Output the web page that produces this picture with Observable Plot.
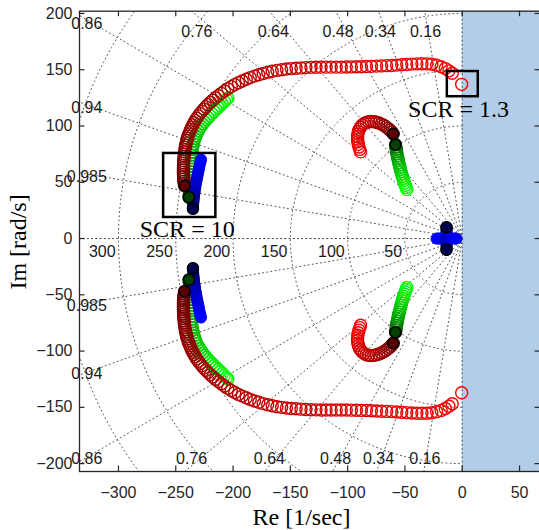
<!DOCTYPE html>
<html><head><meta charset="utf-8">
<script src="https://cdn.jsdelivr.net/npm/d3@7"></script>
<script src="https://cdn.jsdelivr.net/npm/@observablehq/plot@0.6"></script>
<style>html,body{margin:0;padding:0;overflow:hidden;background:#fff} #chart svg{max-width:none !important;}</style>
</head><body><div id="chart"></div>
<script>
// ---- axis / grid values ----
const xTicks = [-300,-250,-200,-150,-100,-50,0,50];
const yTicks = [-200,-150,-100,-50,0,50,100,150,200];
const zetaTop = [0.16,0.34,0.48,0.64,0.76];
const zetaLeft = [0.86,0.94,0.985];
const wnCircles = [50,100,150,200,250,300,350];
const wnLabels = [50,100,150,200,250,300];

// ---- pole trajectories (upper half; lower half is the conjugate) [Re, Im] ----
const redArc = [
[-242.3,47],[-242.6,49],[-242.9,51],[-243.1,53],[-243.2,55],[-243.3,57],[-243.3,59],[-243.3,61],[-243.3,63],[-243.2,65],
[-243.1,67],[-243,69],[-242.9,71],[-242.7,73],[-242.5,75],[-242.3,77],[-242,79],[-241.7,81],[-241.3,83],[-240.9,85],
[-240.4,87],[-239.9,89],[-239.3,91],[-238.6,93],[-237.8,95],[-237,97],[-236.1,99],[-235.1,101],[-234.1,103],[-233,105],
[-231.7,107],[-230.3,109],[-228.8,111],[-227.2,113],[-225.5,115],[-223.7,117],[-221.8,119],[-219.8,121],[-217.6,123],[-215.3,125],
[-212.8,127],[-210.2,129],[-207.5,131],[-204.6,133],[-201.6,135],[-198.5,136.8],[-195.3,138.5],[-192,140],[-188.5,141.5],[-185,143],
[-181.3,144.3],[-177.5,145.5],[-173.7,146.7],[-169.8,147.7],[-165.8,148.6],[-161.7,149.4],[-157.6,150],[-153.4,150.6],[-149.2,151],[-145,151.3],
[-140.7,151.6],[-136.4,151.9],[-132,152.1],[-127.6,152.2],[-123.2,152.3],[-118.8,152.3],[-114.4,152.3],[-110,152.3],[-105.6,152.3],[-101.2,152.4],
[-96.8,152.5],[-92.4,152.6],[-88,152.7],[-83.6,152.8],[-79.2,153],[-74.8,153.2],[-70.4,153.4],[-66,153.6],[-61.6,153.8],[-57.2,154.1],
[-52.8,154.4],[-48.4,154.7],[-44,155],[-39.6,155.2],[-35.2,155.3],[-30.8,155.2],[-26.5,154.8],[-22.3,154],[-18.4,152.7],[-14.8,151],
[-11.6,149],[-8.7,146.8],[-0.5,137]
];
const greenArc = [
[-238.5,36.7],[-238.2,39.2],[-237.9,41.7],[-237.6,44.2],[-237.3,46.7],[-237.1,49.2],[-236.9,51.7],[-236.8,54.2],[-236.7,56.7],[-236.6,59.2],
[-236.6,61.7],[-236.5,64.2],[-236.5,66.7],[-236.4,69.2],[-236.3,71.7],[-236.2,74.2],[-236,76.7],[-235.7,79.2],[-235.2,81.6],[-234.6,84],
[-234,86.4],[-233.3,88.8],[-232.5,91.1],[-231.5,93.4],[-230.4,95.6],[-229.2,97.7],[-227.9,99.8],[-226.5,101.8],[-225,103.7],[-223.4,105.6],
[-221.8,107.4],[-220.1,109.2],[-218.4,111],[-216.6,112.8],[-214.8,114.6],[-213,116.4],[-211.2,118.2],[-209.4,120],[-207.6,121.8],[-205.8,123.6],
[-204.5,124.8]
];
const blueArc = [
[-235,26.4],[-234.9,28.4],[-234.8,30.4],[-234.6,32.4],[-234.4,34.4],[-234.2,36.4],[-234,38.4],[-233.7,40.4],[-233.4,42.4],[-233.1,44.4],
[-232.8,46.4],[-232.5,48.4],[-232.1,50.4],[-231.7,52.4],[-231.3,54.4],[-230.9,56.4],[-230.5,58.4],[-230.1,60.4],[-229.7,62.4],[-229.3,64.4],
[-228.9,66.4],[-228.4,68.4],[-227.9,70.2]
];
const redHook = [
[-60.2,93],[-61.6,94.8],[-63.2,96.5],[-64.9,98],[-66.7,99.4],[-68.6,100.6],[-70.6,101.7],[-72.7,102.6],[-74.9,103.3],[-77.1,103.8],
[-79.4,104],[-81.6,103.8],[-83.7,103.2],[-85.6,102.2],[-87.3,100.8],[-88.7,99.1],[-89.8,97.2],[-90.6,95.1],[-91.1,92.9],[-91.3,90.6],
[-91.3,88.3],[-91.1,86],[-90.7,83.7],[-90.1,81.4],[-89.4,79.2],[-88.7,77]
];
const greenHook = [
[-58.2,83.3],[-57.9,81.3],[-57.6,79.3],[-57.3,77.3],[-57,75.3],[-56.6,73.3],[-56.2,71.3],[-55.8,69.3],[-55.4,67.3],[-54.9,65.3],
[-54.4,63.3],[-53.9,61.3],[-53.4,59.3],[-52.9,57.3],[-52.3,55.3],[-51.7,53.3],[-51.1,51.3],[-50.4,49.3],[-49.7,47.3],[-49,45.3],
[-48.3,43.5]
];
const blueNearImag = [[-13.7,10],[-13.7,8.6],[-13.7,7.2],[-13.7,5.8],[-13.7,4.4],[-13.7,3],[-13.7,1.6],[-13.7,0.4]];
const blueNearRealLeft = [[-15,0],[-16.5,0],[-18,0],[-19.5,0],[-21,0],[-22.5,0]];
const blueNearRealRight = [[-12.4,0],[-10.9,0],[-9.4,0],[-7.9,0],[-6.4,0],[-5,0]];

// ---- annotations ----
const annotationBoxes = [{x1:-260.6,x2:-215,y1:18.7,y2:75.6},{x1:-13,x2:14,y1:126,y2:148.4}];
const annotationTexts = [{re:-240,im:8,text:"SCR = 10"},{re:-3.2,im:114.7,text:"SCR = 1.3"}];

// ---- build tables ----
const xDomain = [-334, 68.3], yDomain = [-207, 202];
function buildSeries(pts, c0, c1, gamma, lowerPts) {
  const rows = [];
  const interp = d3.interpolateRgb(c0, c1);
  const col = (i, n) => interp(Math.pow(n > 1 ? i / (n - 1) : 1, gamma));
  const n = pts.length;
  pts.forEach(([re, im], i) => {
    const color = col(i, n);
    rows.push({re, im, color});
    if (!lowerPts) rows.push({re, im: -im, color});
  });
  if (lowerPts) {
    const m = lowerPts.length;
    lowerPts.forEach(([re, im], i) => rows.push({re, im, color: col(i, m)}));
  }
  return rows;
}
const redArcRows = buildSeries(redArc, "#650000", "#ff0000", 0.9);
const greenArcRows = buildSeries(greenArc, "#004000", "#00ff00", 0.6);
const blueArcRows = buildSeries(blueArc, "#000045", "#0000ff", 0.7);
const redHookRows = buildSeries(redHook, "#650000", "#ff0000", 0.8);
const greenHookRows = buildSeries(greenHook, "#004000", "#00ff00", 0.7);
const blueNearRows = buildSeries(
  [...blueNearImag, ...blueNearRealLeft], "#000045", "#0000ff", 0.8,
  [...blueNearImag.map(([r, i]) => [r, -i]), ...blueNearRealRight]);

const startMarkers = [];
[[redArc, "#5a0000"], [greenArc, "#004000"], [blueArc, "#000050"],
 [redHook, "#5a0000"], [greenHook, "#004000"], [blueNearImag, "#000050"]].forEach(([pts, c]) => {
  startMarkers.push({re: pts[0][0], im: pts[0][1], color: c});
  startMarkers.push({re: pts[0][0], im: -pts[0][1], color: c});
});

// grid geometry
const gridCircles = [];
wnCircles.forEach(w => d3.range(90, 270.01, 0.5).forEach(a => {
  const t = a * Math.PI / 180;
  gridCircles.push({w, re: w * Math.cos(t), im: w * Math.sin(t)});
}));
const gridRays = [];
[0, ...zetaTop, ...zetaLeft, 1].forEach((z, k) => {
  const s = Math.sqrt(1 - z * z);
  [1, -1].forEach(sg => {
    gridRays.push({id: k + "_" + sg, re: 0, im: 0});
    gridRays.push({id: k + "_" + sg, re: -500 * z, im: sg * 500 * s});
  });
});
const cot = z => z / Math.sqrt(1 - z * z);
const tanz = z => Math.sqrt(1 - z * z) / z;
const zetaLabelRows = [
  ...zetaTop.map(z => ({re: -198 * cot(z), im: 183.5, text: String(z), anchor: "middle"})),
  ...zetaTop.map(z => ({re: -202 * cot(z), im: -195.6, text: String(z), anchor: "middle"})),
  ...zetaLeft.map(z => ({re: -327.6, im: 326 * tanz(z) - 2.3, text: String(z), anchor: "start"})),
  ...zetaLeft.map(z => ({re: -327.6, im: -326 * tanz(z) - 2.3, text: String(z), anchor: "start"}))
];
const wnLabelRows = wnLabels.map(w => ({re: -w - 2.5, im: -12, text: String(w)}));

const frameW = 540 - 79, frameH = 471 - 10.7;
const axisColor = "#262626";
const serif = "'Liberation Serif', 'Times New Roman', serif";
const gridStyle = {stroke: "#505050", strokeWidth: 1, strokeDasharray: "1,3.2", clip: true};
const ring = (data) => Plot.dot(data, {x: "re", y: "im", r: 6, stroke: "color", fill: "none", strokeWidth: 1.4});

const chart = Plot.plot({
  width: 545, height: 530,
  marginLeft: 79, marginRight: 5, marginTop: 10.7, marginBottom: 59,
  style: {fontFamily: "'Liberation Sans', Arial, sans-serif", fontSize: "16px", color: axisColor, background: "#fff", maxWidth: "none"},
  x: {domain: xDomain, axis: null},
  y: {domain: yDomain, axis: null},
  marks: [
    Plot.rect([{x1: 0, x2: xDomain[1], y1: yDomain[0], y2: yDomain[1]}], {x1: "x1", x2: "x2", y1: "y1", y2: "y2", fill: "#b3cde8"}),
    Plot.line(gridCircles, {x: "re", y: "im", z: "w", ...gridStyle}),
    Plot.line(gridRays, {x: "re", y: "im", z: "id", ...gridStyle}),
    Plot.text(zetaLabelRows, {x: "re", y: "im", text: "text", textAnchor: "anchor", fill: "#1a1a1a", fontSize: 16}),
    Plot.text(wnLabelRows, {x: "re", y: "im", text: "text", textAnchor: "end", fill: "#1a1a1a", fontSize: 16}),
    ring(greenArcRows),
    ring(redArcRows),
    Plot.dot(blueArcRows, {x: "re", y: "im", r: 5.5, stroke: "color", fill: "color", strokeWidth: 1}),
    ring(redHookRows),
    ring(greenHookRows),
    Plot.dot(blueNearRows, {x: "re", y: "im", r: 5.5, stroke: "color", fill: "color", strokeWidth: 1}),
    Plot.dot(startMarkers, {x: "re", y: "im", r: 5.5, fill: "color", stroke: "#000", strokeWidth: 1.5}),
    Plot.rect(annotationBoxes, {x1: "x1", x2: "x2", y1: "y1", y2: "y2", fill: "none", stroke: "#000", strokeWidth: 2.5}),
    Plot.text(annotationTexts, {x: "re", y: "im", text: "text", fontFamily: serif, fontSize: 24, fill: "#000"}),
    Plot.frame({stroke: axisColor, strokeWidth: 1.3}),
    Plot.ruleX(xTicks, {insetTop: frameH - 5.5, stroke: axisColor, strokeWidth: 1.2}),
    Plot.ruleX(xTicks, {insetBottom: frameH - 5.5, stroke: axisColor, strokeWidth: 1.2}),
    Plot.ruleY(yTicks, {insetRight: frameW - 5.5, stroke: axisColor, strokeWidth: 1.2}),
    Plot.ruleY(yTicks, {insetLeft: frameW - 5.5, stroke: axisColor, strokeWidth: 1.2}),
    Plot.axisX(xTicks, {tickSize: 0, tickPadding: 15, label: null, fontSize: 16, fill: axisColor}),
    Plot.axisY(yTicks, {tickSize: 0, tickPadding: 7, label: null, fontSize: 16, fill: axisColor}),
    Plot.text(["Re [1/sec]"], {frameAnchor: "bottom", lineAnchor: "middle", textAnchor: "middle", dx: -8.5, dy: 46, fontFamily: serif, fontSize: 24, fill: "#000"}),
    Plot.text(["Im [rad/s]"], {frameAnchor: "left", lineAnchor: "middle", textAnchor: "middle", rotate: -90, dx: -61, dy: 0.6, fontFamily: serif, fontSize: 24, fill: "#000"})
  ]
});
document.getElementById("chart").appendChild(chart);
</script>
</body></html>
